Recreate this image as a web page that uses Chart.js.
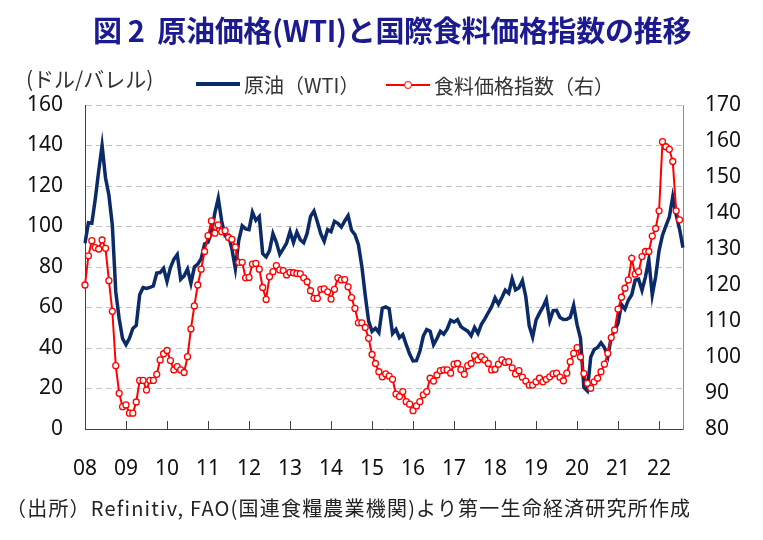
<!DOCTYPE html>
<html>
<head>
<meta charset="utf-8">
<script src="https://cdn.jsdelivr.net/npm/chart.js@4/dist/chart.umd.min.js"></script>
<style>
  body { margin: 0; background: #fff; }
  #wrap { position: relative; width: 763px; height: 540px; overflow: hidden; }
  #chart { position: absolute; left: 0; top: 0; }
  .txt { position: absolute; font-family: "Noto Sans CJK JP", sans-serif; white-space: nowrap; }
  #title { left: 0; width: 784px; top: 8px; text-align: center; font-size: 29px; font-weight: bold; color: #1b1b8f; letter-spacing: -0.3px; }
  #unit { left: 26px; top: 63px; font-size: 21px; color: #333; }
  #legend { left: 196px; top: 63px; font-size: 20px; color: #333; }
  .item { display: inline-flex; align-items: center; margin-right: 22px; }
  .swatch { position: relative; display: inline-block; width: 44px; height: 4px; margin-right: 4px; }
  .dot { position: absolute; left: 18px; top: -3px; width: 6px; height: 6px; border: 1.5px solid #ff0000; border-radius: 50%; background: #fff; }
  #source { left: 6px; top: 493px; font-size: 20px; color: #222; letter-spacing: 1.2px; }
</style>
</head>
<body>
<div id="wrap">
  <canvas id="chart" width="763" height="540"></canvas>
  <div class="txt" id="title">図 2&nbsp;&nbsp;原油価格(WTI)と国際食料価格指数の推移</div>
  <div class="txt" id="unit">(ドル/バレル)</div>
  <div class="txt" id="legend">
    <span class="item"><span class="swatch" style="background:#0b2a68;height:4px"></span>原油（WTI）</span>
    <span class="item"><span class="swatch" style="background:#ff0000;height:2px"><span class="dot"></span></span>食料価格指数（右）</span>
  </div>
  <div class="txt" id="source">（出所）Refinitiv, FAO(国連食糧農業機関)より第一生命経済研究所作成</div>
</div>
<script>
// years shown on the x axis (Jan 2008 - Aug 2022, monthly)
var yearLabels = ['08', '09', '10', '11', '12', '13', '14', '15', '16', '17', '18', '19', '20', '21', '22'];
var lastYearMonths = 8;

// WTI month-end, dollars per barrel
var wti = [
  91.75, 101.84, 101.58, 113.46, 127.35, 140.00, 124.08, 115.46, 100.64, 67.81, 54.43, 44.60,
  41.68, 44.76, 49.66, 51.12, 66.31, 69.89, 69.45, 69.96, 70.61, 77.00, 77.28, 79.36,
  72.89, 79.66, 83.76, 86.15, 73.97, 75.63, 78.95, 71.92, 79.97, 81.43, 84.11, 91.38,
  92.19, 96.97, 106.72, 113.93, 102.70, 95.42, 95.70, 88.81, 79.20, 93.19, 100.36, 98.83,
  98.48, 107.07, 103.02, 104.87, 86.53, 84.96, 88.06, 96.47, 92.19, 86.24, 88.91, 91.82,
  97.49, 92.05, 97.23, 93.46, 91.97, 96.56, 105.03, 107.65, 102.33, 96.38, 92.72, 98.42,
  97.49, 102.59, 101.58, 99.74, 102.71, 105.37, 98.17, 95.96, 91.16, 80.54, 66.15, 53.27,
  48.24, 49.76, 47.60, 59.63, 60.30, 59.47, 47.12, 49.20, 45.09, 46.59, 41.65, 37.04,
  33.62, 33.75, 38.34, 45.92, 49.10, 48.33, 41.60, 44.70, 48.24, 46.86, 49.44, 53.72,
  52.81, 54.01, 50.60, 49.33, 48.32, 46.04, 50.17, 47.23, 51.67, 54.38, 57.40, 60.42,
  64.73, 61.64, 64.94, 68.57, 67.04, 74.15, 68.76, 69.80, 73.25, 65.31, 50.93, 45.41,
  53.79, 57.22, 60.14, 63.91, 53.50, 58.47, 58.58, 55.10, 54.07, 54.18, 55.17, 61.06,
  51.56, 44.76, 20.48, 18.84, 35.49, 39.27, 40.27, 42.61, 40.22, 35.79, 45.34, 48.52,
  52.20, 61.50, 59.16, 63.58, 66.32, 73.47, 73.95, 68.50, 75.03, 83.57, 66.18, 75.21,
  88.15, 95.72, 100.28, 104.69, 114.67, 105.76, 98.62, 89.55
];

// FAO food price index (right axis)
var food = [
  120.0, 128.1, 132.3, 130.4, 130.0, 132.5, 130.2, 121.2, 112.7, 97.6, 89.9, 86.2,
  86.7, 84.4, 84.4, 87.5, 93.5, 93.5, 90.8, 93.5, 93.5, 95.2, 99.2, 100.9,
  101.8, 99.0, 96.4, 97.3, 96.4, 95.7, 100.1, 107.8, 114.2, 120.0, 124.4, 129.3,
  133.7, 137.8, 134.4, 136.7, 134.8, 135.1, 133.2, 132.7, 130.5, 126.3, 126.3, 122.0,
  122.1, 125.8, 126.0, 124.4, 119.3, 116.0, 122.3, 123.7, 125.4, 124.2, 124.0, 122.8,
  123.5, 123.4, 123.2, 123.1, 122.0, 120.9, 118.4, 116.3, 116.3, 118.8, 118.9, 118.1,
  116.1, 118.8, 122.0, 121.4, 121.5, 119.5, 116.5, 113.5, 109.5, 109.5, 108.2, 105.2,
  100.7, 98.2, 95.9, 94.5, 95.3, 94.7, 93.8, 89.7, 89.0, 90.4, 87.6, 86.9,
  85.1, 86.4, 87.6, 89.5, 90.4, 94.1, 93.3, 95.0, 96.2, 96.4, 96.4, 95.5,
  98.0, 98.2, 96.5, 95.2, 97.6, 98.2, 100.4, 99.2, 100.1, 99.2, 98.2, 96.4,
  96.6, 98.0, 99.2, 98.5, 98.7, 97.0, 95.3, 96.2, 94.4, 93.3, 92.2, 92.2,
  93.1, 94.1, 93.1, 93.8, 94.5, 95.3, 95.5, 94.4, 93.4, 95.5, 98.7, 101.0,
  102.6, 100.0, 95.4, 92.7, 91.3, 93.1, 94.1, 95.9, 98.0, 101.0, 105.4, 107.5,
  113.3, 116.6, 119.1, 121.4, 127.4, 123.0, 123.7, 127.9, 129.3, 129.3, 133.6, 135.7,
  140.6, 159.8, 158.4, 157.7, 154.3, 140.6, 138.1, null
];

// month categories, label only on January
var months = [];
yearLabels.forEach(function(y, yi) {
    var n = (yi === yearLabels.length - 1) ? lastYearMonths : 12;
    for (var m = 1; m <= n; m++) {
        months.push(y + '/' + m);
    }
});

var tickFont = { family: '"Noto Sans", sans-serif', size: 21 };

// Excel style tick marks pointing up into the plot
var innerTicks = {
    id: 'innerTicks',
    afterDraw: function(chart) {
        var xs = chart.scales.x;
        var ctx = chart.ctx;
        var bottom = chart.chartArea.bottom;
        ctx.save();
        ctx.strokeStyle = '#404040';
        ctx.lineWidth = 1;
        ctx.beginPath();
        for (var i = 0; i < months.length; i += 12) {
            var px = Math.round(xs.getPixelForValue(i)) + 0.5;
            ctx.moveTo(px, bottom);
            ctx.lineTo(px, bottom - 8);
        }
        ctx.stroke();
        ctx.restore();
    }
};

var ctx = document.getElementById('chart').getContext('2d');
var myChart = new Chart(ctx, {
    type: 'line',
    data: {
        labels: months,
        datasets: [{
            label: '原油（WTI）',
            data: wti,
            borderColor: '#0b2a68',
            borderWidth: 3.5,
            pointRadius: 0,
            tension: 0,
            yAxisID: 'y',
            order: 1
        }, {
            label: '食料価格指数（右）',
            data: food,
            borderColor: '#ff0000',
            borderWidth: 2,
            pointRadius: 3,
            pointBackgroundColor: '#ffffff',
            pointBorderColor: '#ff0000',
            pointBorderWidth: 1.3,
            tension: 0,
            yAxisID: 'y1',
            order: 0
        }]
    },
    options: {
        responsive: false,
        animation: false,
        layout: { padding: { top: 105, bottom: 58, left: 0, right: 0 } },
        plugins: {
            legend: { display: false },
            title: { display: false },
            tooltip: { enabled: false }
        },
        scales: {
            x: {
                offset: false,
                grid: { display: false },
                border: { display: true, color: '#404040', width: 1 },
                ticks: {
                    autoSkip: false,
                    maxRotation: 0,
                    padding: 19,
                    color: '#111',
                    font: tickFont,
                    callback: function(val, i) {
                        return i % 12 === 0 ? yearLabels[i / 12] : null;
                    }
                },
                afterFit: function(s) { s.height = 53; }
            },
            y: {
                position: 'left',
                min: 0,
                max: 160,
                ticks: { stepSize: 20, padding: 22, color: '#111', font: tickFont },
                grid: {
                    drawTicks: false,
                    color: function(c) { return c.tick.value === 0 ? 'rgba(0,0,0,0)' : '#c4c4c4'; },
                    lineWidth: 1
                },
                border: { display: true, color: '#404040', width: 1, dash: [6, 4] },
                afterFit: function(s) { s.width = 85; }
            },
            y1: {
                position: 'right',
                min: 80,
                max: 170,
                ticks: { stepSize: 10, padding: 22, color: '#111', font: tickFont },
                grid: { display: false, drawTicks: false },
                border: { display: true, color: '#8c8c8c', width: 1 },
                afterFit: function(s) { s.width = 80; }
            }
        }
    },
    plugins: [innerTicks]
});
</script>
</body>
</html>
